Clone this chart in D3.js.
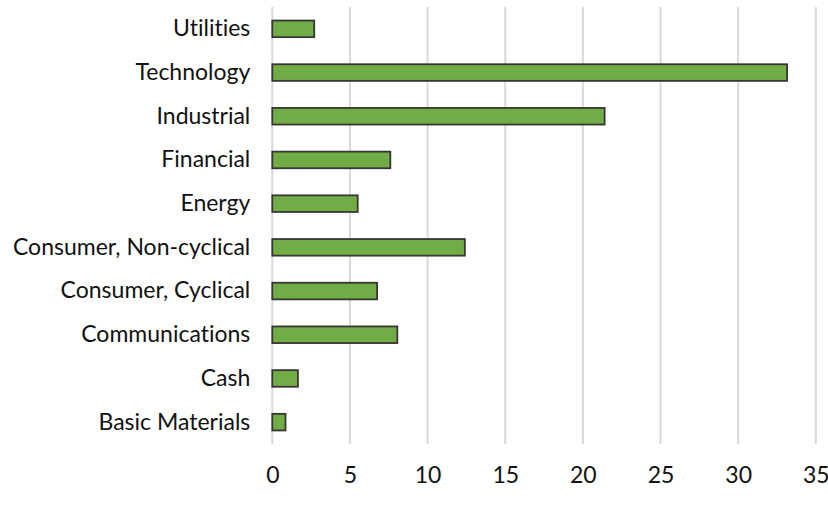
<!DOCTYPE html>
<html>
<head>
<meta charset="utf-8">
<script src="https://cdn.jsdelivr.net/npm/d3@7"></script>
<style>
  body { margin: 0; background: #fff; }
  text { font-family: "Source Sans Pro", Lato, sans-serif; font-variant-ligatures: none; }
</style>
</head>
<body>
<script>
// sector weights (top to bottom)
var sectors = ["Utilities", "Technology", "Industrial", "Financial", "Energy",
  "Consumer, Non-cyclical", "Consumer, Cyclical", "Communications", "Cash", "Basic Materials"];
var weights = [2.7, 33.15, 21.4, 7.6, 5.5, 12.4, 6.75, 8.05, 1.65, 0.85];
var xTicks = [0, 5, 10, 15, 20, 25, 30, 35];

var width = 828, height = 514;
var margin = {top: 7, right: 12, bottom: 70, left: 272};
var w = width - margin.left - margin.right,
  h = height - margin.top - margin.bottom;

var dataset = sectors.map(function (s, i) { return {name: s, value: weights[i]}; });

var xScale = d3.scaleLinear().domain([0, 35]).range([0, 543.5]);
var yScale = d3.scaleBand().domain(sectors).range([0, 437]).paddingInner(0.62).paddingOuter(0.31);

var svg = d3.select("body").append("svg")
  .attr("width", width)
  .attr("height", height)
  .append("g")
  .attr("transform", "translate(" + (margin.left + 0.3) + "," + margin.top + ")");

// vertical gridlines
svg.selectAll(".grid")
  .data(xTicks)
  .enter()
  .append("line")
  .attr("x1", function (d) { return xScale(d); })
  .attr("x2", function (d) { return xScale(d); })
  .attr("y1", 0)
  .attr("y2", 437)
  .attr("stroke", "#d9d9d9")
  .attr("stroke-width", 2);

svg.selectAll("rect")
  .data(dataset)
  .enter()
  .append("rect")
  .attr("x", xScale(0))
  .attr("y", function (d) { return yScale(d.name); })
  .attr("width", function (d) { return xScale(d.value); })
  .attr("height", yScale.bandwidth())
  .attr("fill", "#70ad47")
  .attr("stroke", "#3b3531")
  .attr("stroke-width", 1.8);

// x tick labels
var xAxis = svg.append("g")
  .attr("transform", "translate(0," + 437 + ")")
  .call(d3.axisBottom(xScale).tickValues(xTicks).tickSize(0).tickPadding(23));
xAxis.select(".domain").remove();
xAxis.selectAll("text")
  .attr("font-size", "23px")
  .attr("font-family", "'Source Sans Pro', Lato, sans-serif")
  .attr("fill", "#111");

// category labels
var yAxis = svg.append("g")
  .call(d3.axisLeft(yScale).tickSize(0).tickPadding(22));
yAxis.select(".domain").remove();
yAxis.selectAll("text")
  .attr("font-size", "23px")
  .attr("font-family", "'Source Sans Pro', Lato, sans-serif")
  .attr("fill", "#111");
</script>
</body>
</html>
